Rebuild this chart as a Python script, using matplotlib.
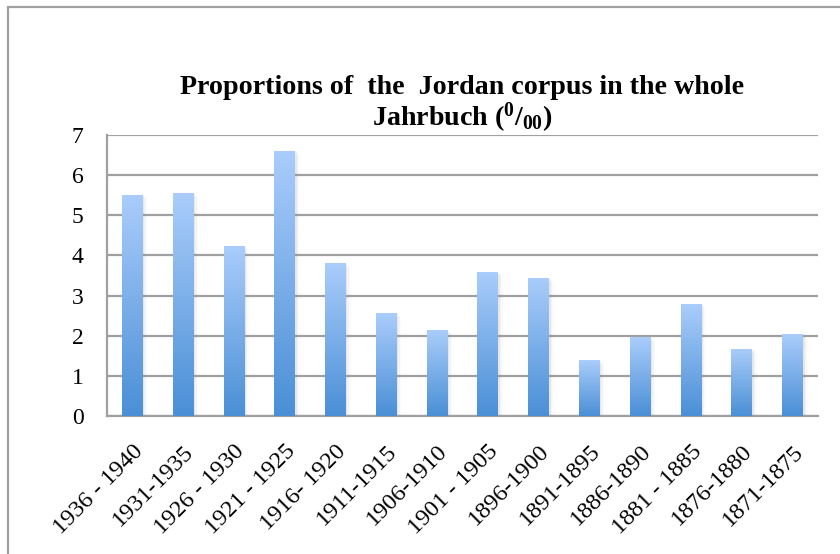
import numpy as np
import matplotlib
matplotlib.use("Agg")
import matplotlib.pyplot as plt
from matplotlib.patches import Rectangle
from matplotlib.colors import LinearSegmentedColormap

categories = ["1936 - 1940", "1931-1935", "1926 - 1930", "1921 - 1925", "1916- 1920",
              "1911-1915", "1906-1910", "1901 - 1905", "1896-1900", "1891-1895",
              "1886-1890", "1881 - 1885", "1876-1880", "1871-1875"]
values = [5.51, 5.55, 4.23, 6.60, 3.81, 2.56, 2.14, 3.59, 3.44, 1.39, 1.96, 2.79, 1.67, 2.04]
yticks = [0, 1, 2, 3, 4, 5, 6, 7]

plt.rcParams['font.family'] = ['Liberation Serif', 'DejaVu Serif']
plt.rcParams['mathtext.fontset'] = 'custom'
plt.rcParams['mathtext.rm'] = 'Liberation Serif'
plt.rcParams['mathtext.bf'] = 'Liberation Serif:bold'

fig = plt.figure(figsize=(8.4, 5.54), dpi=100)
fig.patch.set_facecolor('white')

# outer chart frame
frame = Rectangle((8 / 840, -0.1), 1.2, 1 - 7 / 554 + 0.1, transform=fig.transFigure,
                  fill=False, edgecolor='#a0a0a0', lw=1.6, zorder=0)
fig.add_artist(frame)

ax = fig.add_axes([107 / 840, 1 - 416 / 554, (818 - 107) / 840, (416 - 135) / 554])
ax.set_xlim(-0.5, len(categories) - 0.5)
ax.set_ylim(0, 7)
ax.set_yticks(yticks)
ax.set_yticklabels([str(t) for t in yticks], fontsize=17)
ax.yaxis.grid(True, color='#a0a0a0', lw=1.6)
ax.set_axisbelow(True)
for s in ['top', 'right']:
    ax.spines[s].set_visible(False)
for s in ['left', 'bottom']:
    ax.spines[s].set_color('#a0a0a0')
    ax.spines[s].set_linewidth(1.6)
ax.tick_params(axis='y', length=0, pad=17)
ax.tick_params(axis='x', length=0, pad=18)

x = np.arange(len(categories))
bars = ax.bar(x, values, width=0.41, facecolor='none', edgecolor='none', zorder=3)

cmap = LinearSegmentedColormap.from_list('g', ['#4a8fd6', '#aacdfb'])
grad = np.linspace(0, 1, 256).reshape(-1, 1)
for b in bars:
    x0, w, h = b.get_x(), b.get_width(), b.get_height()
    # soft shadow
    for k, a in enumerate([0.10, 0.06, 0.03]):
        sh = Rectangle((x0 + 0.03 * (k + 1), 0), w, h - 0.03 * (k + 1), facecolor='gray',
                       edgecolor='none', alpha=a, zorder=2)
        ax.add_patch(sh)
    im = ax.imshow(grad, extent=[x0, x0 + w, 0, h], origin='lower', cmap=cmap,
                   aspect='auto', zorder=3)
    im.set_clip_path(b)

ax.set_xticks(x)
ax.set_xticklabels(categories, rotation=45, ha='right', rotation_mode='anchor', fontsize=17.5)
ax.set_xlim(-0.5, len(categories) - 0.5)
ax.set_ylim(0, 7)

fig.text(462 / 840, 1 - 94 / 554, "Proportions of  the  Jordan corpus in the whole",
         ha='center', va='baseline', fontsize=20.2, fontweight='bold')
fig.text(462 / 840, 1 - 126 / 554, r"Jahrbuch ($\mathbf{^{0}/_{00}}$)",
         ha='center', va='baseline', fontsize=20.2, fontweight='bold')

fig.savefig('out.png', dpi=100, facecolor='white')
